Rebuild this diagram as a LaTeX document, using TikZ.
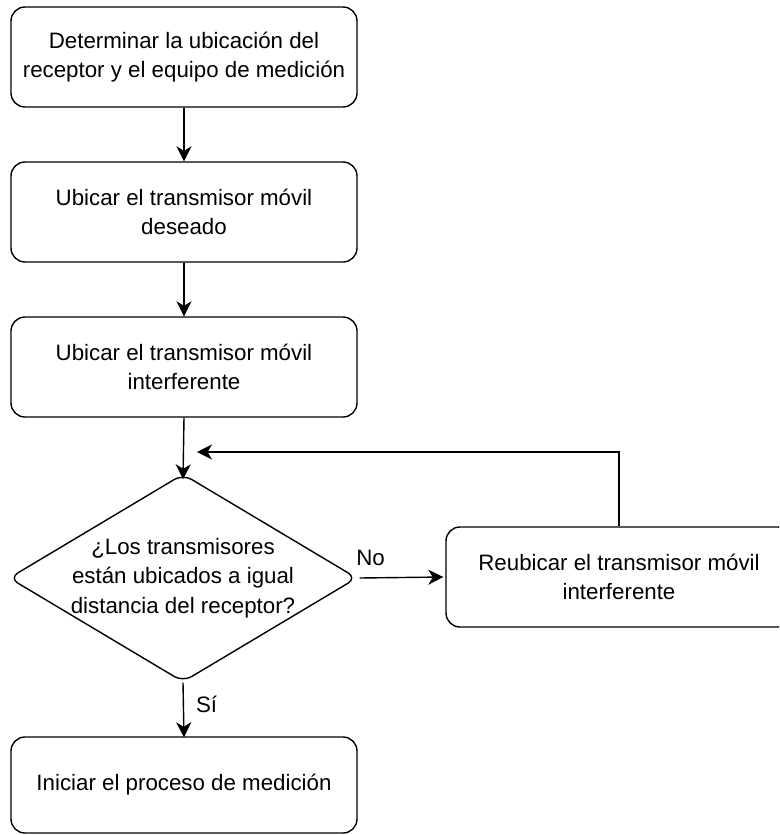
\documentclass[tikz,border=0pt]{standalone}
\usepackage{fontspec}
\setmainfont{Liberation Sans}
\usetikzlibrary{shapes.geometric,arrows.meta}

\tikzset{
  stepbox/.style={draw, line width=1.4pt, rounded corners=14pt,
    minimum width=346pt, minimum height=100pt, align=center,
    font=\fontsize{22.3}{29.5}\selectfont, inner sep=0pt},
  decision/.style={draw, line width=1.4pt, shape=diamond, rounded corners=10pt,
    minimum width=348pt, minimum height=208pt, inner sep=0pt},
  lbl/.style={font=\fontsize{22.3}{29.5}\selectfont, align=center, inner sep=0pt},
  flow/.style={line width=1.4pt, -{Stealth[length=15pt, width=15pt, inset=4.5pt]}}
}

\begin{document}
\begin{tikzpicture}[x=1pt, y=-1pt]
  \useasboundingbox (0,0) rectangle (779,835);
  \begin{scope}
    \clip (0,0) rectangle (779,835);

    % main column of steps
    \node[stepbox] (s1) at (184,57) {Determinar la ubicación del\\receptor y el equipo de medición};
    \node[stepbox] (s2) at (184,212) {Ubicar el transmisor móvil\\deseado};
    \node[stepbox] (s3) at (184,367) {Ubicar el transmisor móvil\\interferente};

    % decision
    \node[decision] (q) at (183,578) {};
    \node[lbl] (qt) at (183,578) {¿Los transmisores\\están ubicados a igual\\distancia del receptor?};

    % side step and final step
    \node[stepbox] (r) at (619,577) {Reubicar el transmisor móvil\\interferente};
    \node[stepbox, minimum height=96pt] (f) at (184,785) {Iniciar el proceso de medición};

    % connectors
    \coordinate (loop) at (197,452);
    \draw[flow] (s1.south) -- (s2.north);
    \draw[flow] (s2.south) -- (s3.north);
    \draw[flow] (s3.south) -- ([yshift=-6pt]q.north);
    \draw[flow] (r.north) |- (loop);
    \draw[flow] ([xshift=2pt]q.east) -- node[lbl, above=11pt, pos=0.13] (no) {No} ([xshift=-2pt]r.west);
    \draw[flow] (q.south) -- node[lbl, right=12pt, pos=0.4] (si) {Sí} ([yshift=-1pt]f.north);
  \end{scope}
\end{tikzpicture}
\end{document}
